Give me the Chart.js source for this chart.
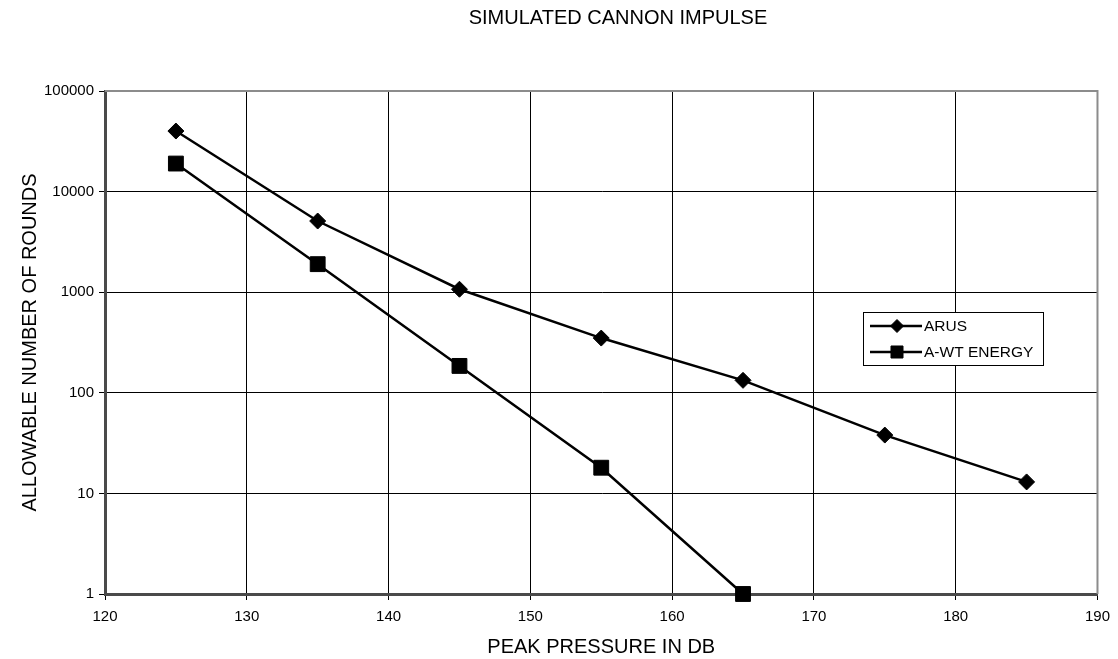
<!DOCTYPE html>
<html>
<head>
<meta charset="utf-8">
<script src="https://cdn.jsdelivr.net/npm/chart.js@4/dist/chart.umd.min.js"></script>
<style>
  body { margin: 0; background: #fff; }
  #wrap { width: 1118px; height: 659px; }
</style>
</head>
<body>
<div id="wrap"><canvas id="impulseChart" width="1118" height="659"></canvas></div>
<script>
// peak pressure (dB) for each point
const pressures = [125, 135, 145, 155, 165, 175, 185];
// allowable rounds
const arusRounds = [40000, 5100, 1070, 350, 133, 38, 13];
const awtRounds = [19000, 1900, 185, 18, 1];
const yTickValues = [1, 10, 100, 1000, 10000, 100000];

const FONT = "'Liberation Sans', Arial, sans-serif";

const toPoints = (ys) => ys.map((y, i) => ({ x: pressures[i], y: y }));

// grey frame on top/right + chart title + boxed legend inside plot
const framePlugin = {
    id: 'frame',
    beforeDatasetsDraw(chart) {
        const { ctx, chartArea: a } = chart;
        ctx.save();
        ctx.strokeStyle = '#8c8c8c';
        ctx.lineWidth = 2;
        ctx.beginPath();
        ctx.moveTo(a.left, a.top);
        ctx.lineTo(a.right, a.top);
        ctx.lineTo(a.right, a.bottom);
        ctx.stroke();
        ctx.restore();
    },
    afterDraw(chart) {
        const ctx = chart.ctx;
        ctx.save();
        ctx.fillStyle = '#000';
        ctx.font = `20px ${FONT}`;
        ctx.textAlign = 'center';
        ctx.textBaseline = 'middle';
        ctx.fillText('SIMULATED CANNON IMPULSE', 618, 18);

        // legend box
        const bx = 863, by = 312, bw = 180, bh = 53;
        ctx.fillStyle = '#fff';
        ctx.fillRect(bx, by, bw, bh);
        ctx.strokeStyle = '#000';
        ctx.lineWidth = 1;
        ctx.strokeRect(bx + 0.5, by + 0.5, bw, bh);
        const rows = [326, 352];
        chart.data.datasets.forEach((ds, i) => {
            const y = rows[i];
            ctx.strokeStyle = '#000';
            ctx.fillStyle = '#000';
            ctx.lineWidth = 2.5;
            ctx.beginPath();
            ctx.moveTo(870, y);
            ctx.lineTo(922, y);
            ctx.stroke();
            ctx.lineWidth = 1;
            Chart.helpers.drawPoint(ctx, {
                pointStyle: ds.pointStyle,
                radius: ds.pointStyle === 'rect' ? 8.5 : 6.5,
                borderWidth: 1
            }, 897, y);
            ctx.font = `15.5px ${FONT}`;
            ctx.textAlign = 'left';
            ctx.fillText(ds.label, 924, y + 1);
        });
        ctx.restore();
    }
};

const ctx = document.getElementById('impulseChart').getContext('2d');

new Chart(ctx, {
    type: 'line',
    data: {
        datasets: [
            {
                label: 'ARUS',
                data: toPoints(arusRounds),
                borderColor: '#000',
                backgroundColor: '#000',
                borderWidth: 2.5,
                pointStyle: 'rectRot',
                pointRadius: 8,
                pointBorderWidth: 1,
                clip: false
            },
            {
                label: 'A-WT ENERGY',
                data: toPoints(awtRounds),
                borderColor: '#000',
                backgroundColor: '#000',
                borderWidth: 2.5,
                pointStyle: 'rect',
                pointRadius: 10.5,
                pointBorderWidth: 1,
                clip: false
            }
        ]
    },
    options: {
        responsive: false,
        animation: false,
        layout: { padding: { top: 91, right: 20, left: 0, bottom: 0 } },
        plugins: {
            legend: { display: false },
            tooltip: { enabled: false }
        },
        scales: {
            x: {
                type: 'linear',
                min: 120,
                max: 190,
                ticks: {
                    stepSize: 10,
                    color: '#000',
                    padding: 8,
                    font: { family: FONT, size: 15 }
                },
                grid: { color: '#000', lineWidth: 1, tickLength: 6 },
                border: { color: '#4a4a4a', width: 3 },
                title: {
                    display: true,
                    text: 'PEAK PRESSURE IN DB',
                    color: '#000',
                    padding: { top: 0, bottom: 0 },
                    font: { family: FONT, size: 20 }
                },
                afterFit: (s) => { s.height = 65; }
            },
            y: {
                type: 'logarithmic',
                min: 1,
                max: 100000,
                afterBuildTicks: (s) => { s.ticks = yTickValues.map(v => ({ value: v })); },
                ticks: {
                    color: '#000',
                    padding: 5,
                    font: { family: FONT, size: 15 },
                    callback: (v) => String(v)
                },
                grid: { color: '#000', lineWidth: 1, tickLength: 6 },
                border: { color: '#4a4a4a', width: 3 },
                title: {
                    display: true,
                    text: 'ALLOWABLE NUMBER OF ROUNDS',
                    color: '#000',
                    padding: { top: 18, bottom: 0 },
                    font: { family: FONT, size: 20 }
                },
                afterFit: (s) => { s.width = 105; }
            }
        }
    },
    plugins: [framePlugin]
});
</script>
</body>
</html>
